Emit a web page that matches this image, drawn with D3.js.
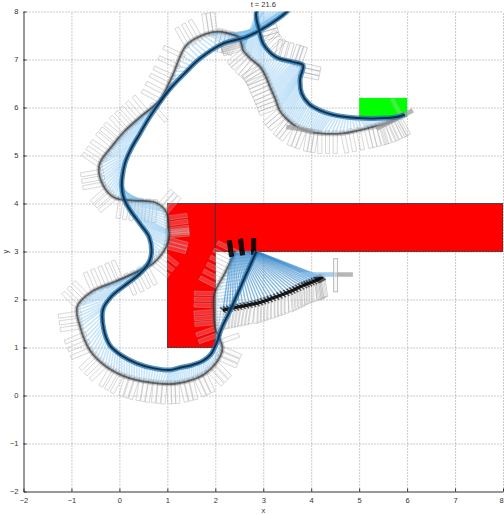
<!DOCTYPE html>
<html>
<head>
<meta charset="utf-8">
<script src="https://cdn.jsdelivr.net/npm/d3@7"></script>
<style>
  body { margin: 0; background: #fff; }
  svg { display: block; }
  text { font-family: "Liberation Sans", Arial, sans-serif; fill: #333; }
</style>
</head>
<body>
<svg id="chart" width="504" height="515"></svg>
<script>
// ---- axis ticks ----
const xTicks = [-2, -1, 0, 1, 2, 3, 4, 5, 6, 7, 8];
const yTicks = [-2, -1, 0, 1, 2, 3, 4, 5, 6, 7, 8];
const titleText = "t = 21.6";

// ---- obstacles and goal region ----
const obstacleX0 = [1, 2];
const obstacleX1 = [2, 8];
const obstacleY0 = [1, 3];
const obstacleY1 = [4, 4];
const goalX = [5, 6];
const goalY = [5.8, 6.2];

// ---- executed trajectory (dark line) ----
const innerX = [2.86, 2.7, 2.5, 2.3, 2.13, 2.03, 1.9, 1.74, 1.5, 1.26, 1.05, 0.7, 0.36, 0.05, -0.2, -0.33, -0.34, -0.15, 0.15, 0.43,
  0.62, 0.67, 0.62, 0.45, 0.25, 0.15, 0.08, 0.05, 0.06, 0.12, 0.25, 0.43, 0.6, 0.78, 1.05, 1.35, 1.68, 2.16, 2.65, 3.07,
  3.5, 3.75, 3.3, 2.86, 2.92, 3.0, 3.27, 3.62, 3.83, 3.77, 3.8, 3.95, 4.18, 4.45, 4.73, 5.0, 5.29, 5.55, 5.77, 5.95];
const innerY = [3.0, 2.65, 2.2, 1.75, 1.4, 1.1, 0.85, 0.72, 0.63, 0.58, 0.53, 0.57, 0.67, 0.83, 1.05, 1.4, 1.8, 2.08, 2.32, 2.54,
  2.78, 3.0, 3.3, 3.55, 3.82, 3.98, 4.15, 4.35, 4.55, 4.85, 5.15, 5.46, 5.75, 6.02, 6.38, 6.7, 7.02, 7.33, 7.47, 7.69,
  8.0, 8.3, 8.4, 8.0, 7.6, 7.33, 7.05, 6.95, 6.88, 6.6, 6.3, 6.08, 5.94, 5.85, 5.8, 5.78, 5.77, 5.78, 5.8, 5.85];

// ---- rear trace paired with the trajectory (gray line) ----
const outerX = [2.42, 2.2, 1.98, 1.97, 2.0, 2.15, 2.02, 1.78, 1.5, 1.2, 0.95, 0.65, 0.36, 0.05, -0.3, -0.62, -0.82, -0.88, -0.55, -0.1,
  0.29, 0.7, 0.98, 1.04, 1.03, 0.98, 0.75, 0.3, -0.1, -0.35, -0.42, -0.15, 0.1, 0.43, 0.84, 1.1, 1.4, 1.82, 2.09, 2.35,
  2.48, 2.52, 2.55, 2.58, 2.72, 2.93, 3.05, 3.14, 3.25, 3.34, 3.5, 3.69, 3.95, 4.18, 4.66, 5.15, 5.4, 5.57, 5.75, 5.88];
const outerY = [3.0, 2.55, 2.12, 1.75, 1.4, 0.98, 0.68, 0.45, 0.32, 0.25, 0.24, 0.27, 0.32, 0.42, 0.62, 0.95, 1.43, 1.85, 2.18, 2.37,
  2.54, 2.75, 3.1, 3.33, 3.45, 3.82, 4.02, 4.06, 4.12, 4.4, 4.8, 5.2, 5.5, 5.8, 6.15, 6.65, 7.3, 7.54, 7.58, 7.52,
  7.47, 7.4, 7.3, 7.19, 7.03, 6.85, 6.65, 6.43, 6.18, 5.94, 5.75, 5.6, 5.5, 5.46, 5.46, 5.56, 5.62, 5.67, 5.75, 5.82];

// ---- current manoeuvre near the inner corner ----
const cornerInnerX = [2.33, 2.4, 2.48, 2.56, 2.64, 2.72, 2.8, 2.87];
const cornerInnerY = [2.96, 2.97, 2.98, 2.99, 3.0, 3.0, 3.0, 3.0];
const cornerOuterX = [2.16, 2.5, 2.86, 3.2, 3.55, 3.85, 4.11, 4.24];
const cornerOuterY = [1.78, 1.85, 1.92, 2.03, 2.16, 2.3, 2.4, 2.47];

// ---- vehicle bodies and sensor beam ----
const bodyX0 = [4.49, 3.48, 5.36];
const bodyY0 = [2.52, 5.6, 5.56];
const bodyX1 = [4.87, 4.04, 6.12];
const bodyY1 = [2.52, 5.5, 5.94];
const beamX = [3.76, 4.49];
const beamY = [2.52, 2.52];
const axleX = [4.51];
const axleY0 = [2.16];
const axleY1 = [2.85];

// ---- scales ----
const svg = d3.select("#chart");
const x = d3.scaleLinear().domain([-2, 8]).range([23.5, 503]);
const y = d3.scaleLinear().domain([-2, 8]).range([491.5, 11.5]);
const [L, R] = x.range();
const [B, T] = y.range();

svg.append("defs").append("clipPath").attr("id", "plotClip")
  .append("rect").attr("x", L).attr("y", T).attr("width", R - L).attr("height", B - T);

// ---- dotted grid ----
const gridG = svg.append("g");
gridG.append("g").attr("transform", `translate(0,${B})`)
  .call(d3.axisBottom(x).tickValues(xTicks.slice(1)).tickSize(-(B - T)).tickFormat(""));
gridG.append("g").attr("transform", `translate(${L},0)`)
  .call(d3.axisLeft(y).tickValues(yTicks.slice(1)).tickSize(-(R - L)).tickFormat(""));
gridG.selectAll(".domain").remove();
gridG.selectAll(".tick line").attr("stroke", "#8c8c8c").attr("stroke-width", 0.9).attr("stroke-dasharray", "1,2");

// ---- obstacles / goal ----
const plot = svg.append("g").attr("clip-path", "url(#plotClip)");
plot.selectAll("rect.obstacle").data(obstacleX0.map((v, i) => i)).join("rect")
  .attr("class", "obstacle")
  .attr("x", i => x(obstacleX0[i])).attr("y", i => y(obstacleY1[i]))
  .attr("width", i => x(obstacleX1[i]) - x(obstacleX0[i]))
  .attr("height", i => y(obstacleY0[i]) - y(obstacleY1[i]))
  .attr("fill", "#ff0000").attr("stroke", "#333").attr("stroke-width", 0.8);
plot.append("rect")
  .attr("x", x(goalX[0])).attr("y", y(goalY[1]))
  .attr("width", x(goalX[1]) - x(goalX[0])).attr("height", y(goalY[0]) - y(goalY[1]))
  .attr("fill", "#00ff00");

// ---- band drawing: spokes between paired points, footprints along the trace ----
const toPx = (xs, ys) => xs.map((v, i) => [x(v), y(ys[i])]);

function spokesOf(inner, outer, k) {
  const out = [];
  for (let i = 0; i < inner.length - 1; i++) {
    for (let j = 0; j < k; j++) {
      const t = j / k;
      const p = [inner[i][0] + (inner[i + 1][0] - inner[i][0]) * t, inner[i][1] + (inner[i + 1][1] - inner[i][1]) * t];
      const q = [outer[i][0] + (outer[i + 1][0] - outer[i][0]) * t, outer[i][1] + (outer[i + 1][1] - outer[i][1]) * t];
      out.push({
        i, p, q,
        tan: [outer[i + 1][0] - outer[i][0], outer[i + 1][1] - outer[i][1]],
        itan: [inner[i + 1][0] - inner[i][0], inner[i + 1][1] - inner[i][1]]
      });
    }
  }
  const n = inner.length - 1;
  out.push({
    i: n, p: inner[n], q: outer[n],
    tan: [outer[n][0] - outer[n - 1][0], outer[n][1] - outer[n - 1][1]],
    itan: [inner[n][0] - inner[n - 1][0], inner[n][1] - inner[n - 1][1]]
  });
  return out;
}

// direction of a footprint: normal of the trace, turned away from the paired point
function footprintAngle(s, onInner) {
  const tan = onInner ? s.itan : s.tan;
  const d = onInner ? [s.p[0] - s.q[0], s.p[1] - s.q[1]] : [s.q[0] - s.p[0], s.q[1] - s.p[1]];
  const tl = Math.hypot(tan[0], tan[1]);
  let n;
  if (tl > 2) {
    n = [-tan[1] / tl, tan[0] / tl];
    if (n[0] * d[0] + n[1] * d[1] < 0) n = [-n[0], -n[1]];
  } else {
    const dl = Math.hypot(d[0], d[1]) || 1;
    n = [d[0] / dl, d[1] / dl];
  }
  return Math.atan2(n[1], n[0]) * 180 / Math.PI;
}

function drawFootprints(g, pts, angles, stroke, fill, so, fo, len) {
  g.selectAll(null).data(pts.map((p, i) => ({ p, a: angles[i] }))).join("rect")
    .attr("transform", d => `translate(${d.p[0]},${d.p[1]}) rotate(${d.a})`)
    .attr("x", -3).attr("y", -2.1).attr("width", len).attr("height", 4.2)
    .attr("fill", fill).attr("fill-opacity", fo)
    .attr("stroke", stroke).attr("stroke-opacity", so).attr("stroke-width", 0.8);
}

const line = d3.line().curve(d3.curveCatmullRom.alpha(0.5));

// main band
const mainInner = toPx(innerX, innerY);
const mainOuter = toPx(outerX, outerY);
const mainSpokes = spokesOf(mainInner, mainOuter, 6);
const bandG = plot.append("g");
const outerMarks = mainSpokes.filter((d, i) => i % 2 === 0);
drawFootprints(bandG.append("g"), outerMarks.map(s => s.q), outerMarks.map(s => footprintAngle(s, false)),
  "#a6a6a6", "#eeeeee", 0.5, 0.2, 23);
// footprints along the upper return leg of the trajectory
const innerMarks = mainSpokes.filter((s, i) => s.i >= 44 && s.i <= 48 && i % 2 === 0);
drawFootprints(bandG.append("g"), innerMarks.map(s => s.p), innerMarks.map(s => footprintAngle(s, true)),
  "#999", "#eeeeee", 0.5, 0.2, 21);
bandG.append("g").selectAll("line").data(mainSpokes).join("line")
  .attr("x1", s => s.p[0]).attr("y1", s => s.p[1]).attr("x2", s => s.q[0]).attr("y2", s => s.q[1])
  .attr("stroke", "#86c4f0").attr("stroke-opacity", 0.45).attr("stroke-width", 1.6);
bandG.append("path").attr("d", line(mainOuter)).attr("fill", "none")
  .attr("stroke", "#555").attr("stroke-opacity", 0.3).attr("stroke-width", 4.5);
bandG.append("path").attr("d", line(mainOuter)).attr("fill", "none")
  .attr("stroke", "#222").attr("stroke-opacity", 0.6).attr("stroke-width", 1.8);

// corner band
const cInner = toPx(cornerInnerX, cornerInnerY);
const cOuter = toPx(cornerOuterX, cornerOuterY);
const cSpokes = spokesOf(cInner, cOuter, 5);
const cornerG = plot.append("g");
drawFootprints(cornerG.append("g"), cSpokes.map(s => s.q), cSpokes.map(s => footprintAngle(s, false) + 20),
  "#a0a0a0", "#eeeeee", 0.55, 0.2, 23);
cornerG.append("g").selectAll("line").data(cSpokes).join("line")
  .attr("x1", s => s.p[0]).attr("y1", s => s.p[1]).attr("x2", s => s.q[0]).attr("y2", s => s.q[1])
  .attr("stroke", "#2a7fc6").attr("stroke-opacity", 0.55).attr("stroke-width", 1.4);
const cTop = cSpokes.filter((d, i) => i % 15 === 0);
drawFootprints(cornerG.append("g"), cTop.map(s => s.p), cTop.map(s => footprintAngle(s, true)),
  "#000", "#000", 0.9, 0.85, 16);
cornerG.append("path").attr("d", line(cOuter)).attr("fill", "none")
  .attr("stroke", "#000").attr("stroke-opacity", 0.85).attr("stroke-width", 3.2);
cornerG.append("g").selectAll("line").data(cSpokes).join("line")
  .attr("x1", s => s.q[0] - 3).attr("y1", s => s.q[1] - 3).attr("x2", s => s.q[0] + 3).attr("y2", s => s.q[1] + 3)
  .attr("stroke", "#000").attr("stroke-opacity", 0.6).attr("stroke-width", 1.5);

// vehicle bodies, beam and axle
plot.append("g").selectAll("line").data(bodyX0.map((v, i) => i)).join("line")
  .attr("x1", i => x(bodyX0[i])).attr("y1", i => y(bodyY0[i]))
  .attr("x2", i => x(bodyX1[i])).attr("y2", i => y(bodyY1[i]))
  .attr("stroke", "#9d9d9d").attr("stroke-opacity", 0.75).attr("stroke-width", 4.5);
plot.append("line")
  .attr("x1", x(beamX[0])).attr("y1", y(beamY[0])).attr("x2", x(beamX[1])).attr("y2", y(beamY[1]))
  .attr("stroke", "#8dc2ea").attr("stroke-opacity", 0.8).attr("stroke-width", 4.5);
plot.append("g").selectAll("rect").data(axleX.map((v, i) => i)).join("rect")
  .attr("x", i => x(axleX[i]) - 2).attr("y", i => y(axleY1[i]))
  .attr("width", 4).attr("height", i => y(axleY0[i]) - y(axleY1[i]))
  .attr("fill", "#eee").attr("fill-opacity", 0.4).attr("stroke", "#aaa").attr("stroke-width", 0.8);

// executed trajectory on top
plot.append("path").attr("d", line(mainInner)).attr("fill", "none")
  .attr("stroke", "#1f6fae").attr("stroke-opacity", 0.75).attr("stroke-width", 5);
plot.append("path").attr("d", line(mainInner)).attr("fill", "none")
  .attr("stroke", "#0b2940").attr("stroke-opacity", 0.9).attr("stroke-width", 2);

// ---- axes ----
const axX = svg.append("g").attr("transform", `translate(0,${B})`)
  .call(d3.axisBottom(x).tickValues(xTicks).tickSizeInner(-3).tickSizeOuter(0).tickPadding(6));
const axY = svg.append("g").attr("transform", `translate(${L},0)`)
  .call(d3.axisLeft(y).tickValues(yTicks).tickSizeInner(-3).tickSizeOuter(0).tickPadding(5));
[axX, axY].forEach(a => {
  a.select(".domain").attr("stroke", "#333").attr("stroke-width", 1);
  a.selectAll(".tick line").attr("stroke", "#333");
  a.selectAll(".tick text").attr("font-size", 7.5).attr("fill", "#333")
    .attr("font-family", "Liberation Sans, Arial, sans-serif");
});
// keep the last x label inside the canvas
axX.selectAll(".tick text").filter(d => d === xTicks[xTicks.length - 1]).attr("dx", -2);

svg.append("text").attr("x", (L + R) / 2).attr("y", 6.5).attr("text-anchor", "middle")
  .attr("font-size", 7.5).text(titleText);
svg.append("text").attr("x", (L + R) / 2).attr("y", 513).attr("text-anchor", "middle")
  .attr("font-size", 7.5).text("x");
svg.append("text").attr("transform", `translate(8,${(T + B) / 2}) rotate(-90)`).attr("text-anchor", "middle")
  .attr("font-size", 7.5).text("y");
</script>
</body>
</html>
